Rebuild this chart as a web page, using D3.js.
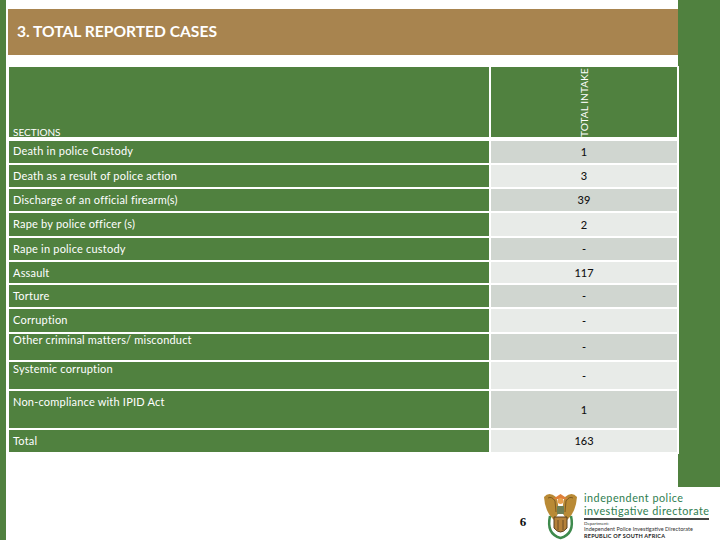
<!DOCTYPE html>
<html>
<head>
<meta charset="utf-8">
<script src="https://cdn.jsdelivr.net/npm/d3@7"></script>
<style>
html, body { margin: 0; padding: 0; background: #fff; }
svg { display: block; }
text { font-family: Lato, "Open Sans", sans-serif; }
</style>
</head>
<body>
<div id="chart"></div>
<script>
var sections = ["Death in police Custody", "Death as a result of police action", "Discharge of an official firearm(s)",
    "Rape by police officer (s)", "Rape in police custody", "Assault", "Torture", "Corruption",
    "Other criminal matters/ misconduct", "Systemic corruption", "Non-compliance with IPID Act", "Total"];
var totalIntake = ["1", "3", "39", "2", "-", "117", "-", "-", "-", "-", "1", "163"];
// row top edges in px, last one is the bottom of the table
var rowEdges = [141, 165, 189, 213, 238, 262, 285, 309, 334, 362, 391, 430, 454];

var green = "#50813f", tan = "#a8844f", dark = "#111";

var svg = d3.select("#chart").append("svg").attr("width", 720).attr("height", 540);

// page furniture
svg.append("rect").attr("x", 0).attr("y", 0).attr("width", 6).attr("height", 540).attr("fill", green);
svg.append("rect").attr("x", 678).attr("y", 0).attr("width", 42).attr("height", 487).attr("fill", green);
svg.append("rect").attr("x", 8).attr("y", 9).attr("width", 670).attr("height", 46).attr("fill", tan);
svg.append("rect").attr("x", 677).attr("y", 66).attr("width", 2).attr("height", 388).attr("fill", "#fff");
svg.append("text").attr("x", 17).attr("y", 37).attr("fill", "#fff").attr("font-size", 15.6)
    .attr("font-weight", 700).text("3. TOTAL REPORTED CASES");

// header
svg.append("rect").attr("x", 9).attr("y", 67).attr("width", 480).attr("height", 70).attr("fill", green);
svg.append("rect").attr("x", 491).attr("y", 67).attr("width", 186).attr("height", 70).attr("fill", green);
svg.append("text").attr("x", 13).attr("y", 136).attr("fill", "#fff").attr("font-size", 10).text("SECTIONS");
svg.append("text").attr("transform", "translate(588,137) rotate(-90)").attr("fill", "#fff")
    .attr("font-size", 10.2).text("TOTAL INTAKE");

var rows = svg.selectAll("g.row").data(sections).enter().append("g").attr("class", "row");

rows.append("rect").attr("x", 9).attr("width", 480)
    .attr("y", function (d, i) { return rowEdges[i]; })
    .attr("height", function (d, i) { return rowEdges[i + 1] - rowEdges[i] - 2; })
    .attr("fill", green);

rows.append("rect").attr("x", 491).attr("width", 186)
    .attr("y", function (d, i) { return rowEdges[i]; })
    .attr("height", function (d, i) { return rowEdges[i + 1] - rowEdges[i] - 2; })
    .attr("fill", function (d, i) { return i % 2 == 0 ? "#d0d6d0" : "#e8ebe8"; });

// tall rows carry their label at the top of the cell
rows.append("text").attr("x", 13).attr("fill", "#fff").attr("font-size", 11)
    .attr("letter-spacing", 0.2)
    .attr("y", function (d, i) {
        if (i == 0) return 155;
        if (i == 8) return 344;
        if (i == 9) return 373;
        if (i == 10) return 406;
        return rowEdges[i] + 15;
    })
    .text(function (d) { return d; });

rows.append("text").attr("x", 584).attr("text-anchor", "middle").attr("fill", dark)
    .attr("font-size", 11).attr("font-weight", 500)
    .attr("y", function (d, i) { return (rowEdges[i] + rowEdges[i + 1] - 2) / 2 + 4; })
    .text(function (d, i) { return totalIntake[i]; });

// page number
svg.append("text").attr("x", 523).attr("y", 526).attr("text-anchor", "middle").attr("fill", "#111")
    .attr("font-size", 13).attr("font-weight", 700).style("font-family", "'Liberation Serif', serif").text("6");

// logo
var logo = svg.append("g");
// wings
logo.append("path").attr("d", "M544 497 Q549 491 556 497 Q559 503 558 514 L554 520 Q545 512 544 497 Z").attr("fill", "#b98a35");
logo.append("path").attr("d", "M577 497 Q572 491 565 497 Q562 503 563 514 L567 520 Q576 512 577 497 Z").attr("fill", "#b98a35");
logo.append("path").attr("d", "M548 498 Q552 496 555 501 L556 512").attr("fill", "none").attr("stroke", "#6e4f1e").attr("stroke-width", 0.8);
logo.append("path").attr("d", "M573 498 Q569 496 566 501 L565 512").attr("fill", "none").attr("stroke", "#6e4f1e").attr("stroke-width", 0.8);
// sun and secretary bird head
logo.append("path").attr("d", "M553 499 L568 499 L560.5 494 Z").attr("fill", "#e0803a");
logo.append("circle").attr("cx", 560.5).attr("cy", 501).attr("r", 3).attr("fill", "#e9a04d");
logo.append("rect").attr("x", 557).attr("y", 506).attr("width", 7).attr("height", 8).attr("fill", "#6f7f55");
// wreath
logo.append("path").attr("d", "M550 516 Q546 534 560.5 538 Q575 534 571 516").attr("fill", "none")
    .attr("stroke", "#3e8a4d").attr("stroke-width", 2.5);
// shield
logo.append("path").attr("d", "M554 517 L567 517 L567 528 Q560.5 536 554 528 Z").attr("fill", "#b5813a").attr("stroke", "#5a4020");
logo.append("path").attr("d", "M558 520 L558 530 M563 520 L563 530").attr("stroke", "#5a4020").attr("stroke-width", 0.8);

logo.append("text").attr("x", 584).attr("y", 502).attr("fill", "#2e7d4f").attr("font-size", 10.8)
    .attr("textLength", 99).text("independent police");
logo.append("text").attr("x", 584).attr("y", 515).attr("fill", "#2e7d4f").attr("font-size", 10.8)
    .attr("textLength", 125).text("investigative directorate");
logo.append("rect").attr("x", 584).attr("y", 518).attr("width", 125).attr("height", 2).attr("fill", "#444");
logo.append("text").attr("x", 584).attr("y", 525).attr("fill", "#333").attr("font-size", 4.5).text("Department:");
logo.append("text").attr("x", 584).attr("y", 531).attr("fill", "#333").attr("font-size", 5.5)
    .attr("textLength", 109).text("Independent Police Investigative Directorate");
logo.append("text").attr("x", 584).attr("y", 537.5).attr("fill", "#222").attr("font-size", 5.5).attr("font-weight", 700)
    .attr("textLength", 81).text("REPUBLIC OF SOUTH AFRICA");
</script>
</body>
</html>
